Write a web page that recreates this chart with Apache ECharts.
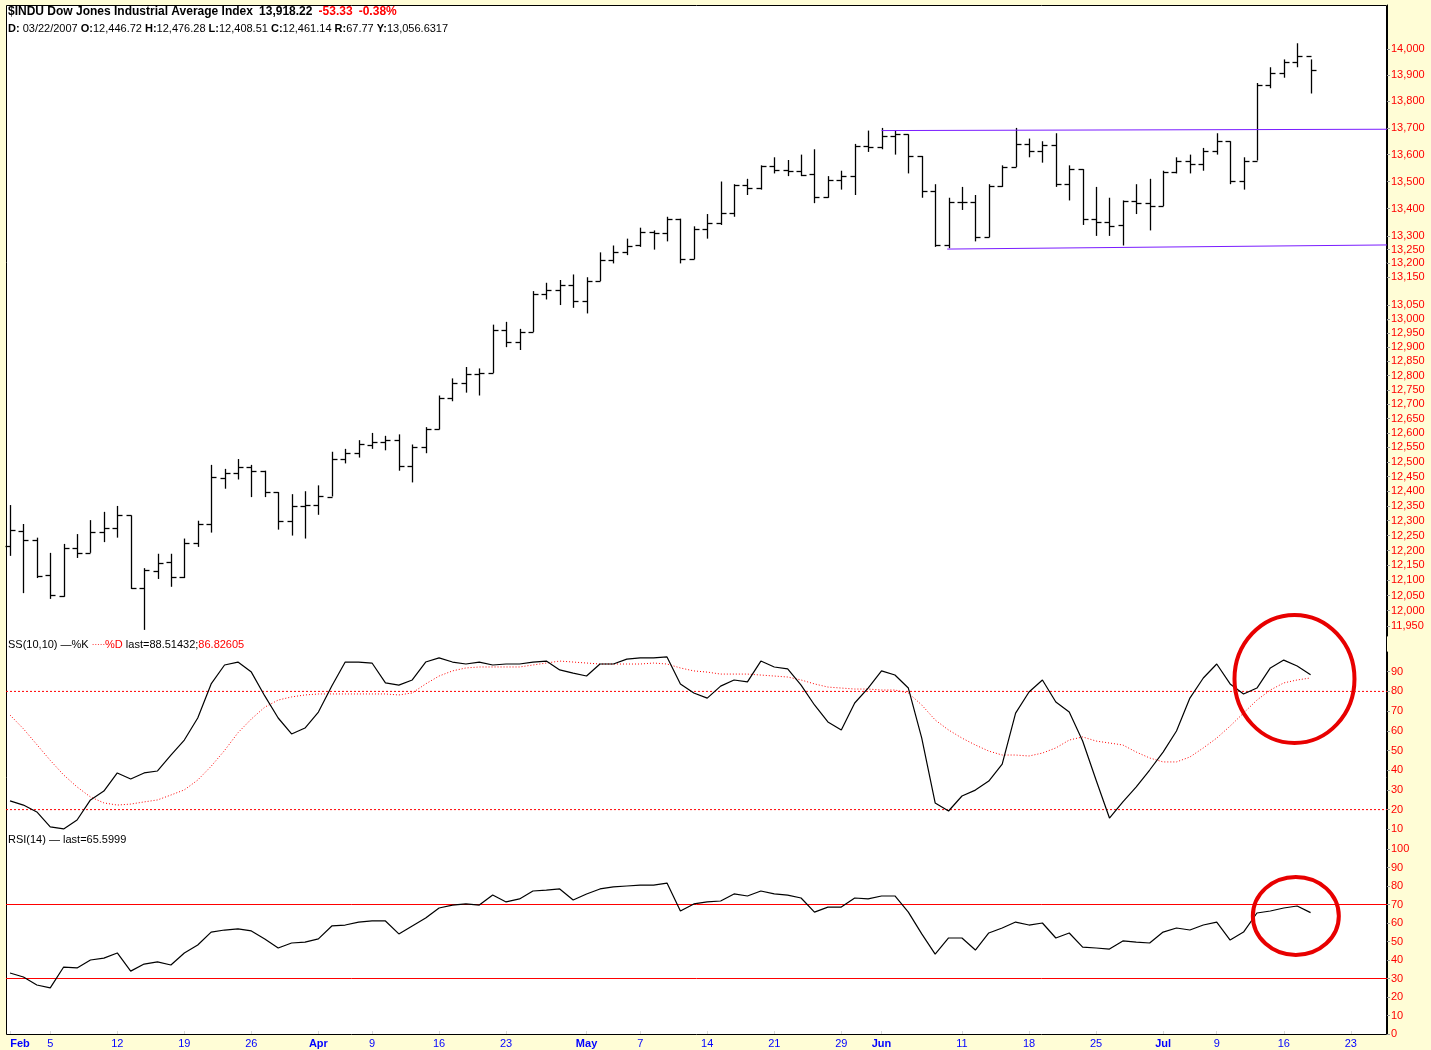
<!DOCTYPE html>
<html><head><meta charset="utf-8">
<script src="https://cdn.jsdelivr.net/npm/echarts@6/dist/echarts.min.js"></script>
<style>html,body{margin:0;padding:0;background:#FFFDD6}#c{width:1431px;height:1050px}</style>
</head><body><div id="c"></div>
<script>
// ---- Data ----
const openP  = [12215,12266,12234,12117,12050,12208,12192,12261,12276,12318,12076,12133,12160,12110,12226,12288,12446.72,12461,12481,12469,12397,12300,12349,12354,12382,12510,12530,12560,12569,12574,12485,12553,12612,12720,12773,12804,12809,12962,12919,12954,13090,13105,13121,13063,13136,13212,13241,13265,13313,13309,13363,13215,13326,13347,13384,13488,13477,13557,13543,13540,13526,13441,13507,13521,13633,13628,13668,13676,13595,13466,13267,13424,13425,13295,13482,13554,13639,13613,13635,13489,13546,13360,13352,13338,13428,13422,13409,13535,13577,13566,13612,13650,13502,13578,13862,13907,13951,13972];
const highP  = [12353,12289,12243,12192,12222,12255,12302,12330,12350,12318,12141,12189,12189,12240,12300,12490,12476.28,12510,12490,12470,12397,12390,12400,12420,12535,12545,12575,12600,12590,12595,12560,12620,12730,12790,12830,12825,12980,12990,12965,13100,13130,13140,13160,13150,13240,13265,13290,13330,13320,13370,13363,13335,13380,13500,13490,13510,13560,13590,13580,13600,13620,13520,13540,13640,13690,13700,13690,13676,13595,13490,13440,13480,13450,13490,13560,13700,13660,13650,13680,13560,13546,13480,13440,13430,13490,13510,13540,13590,13600,13625,13680,13650,13590,13870,13930,13960,14022,13960];
const lowP   = [12182,12058,12108,12039,12046,12175,12192,12228,12243,12072,11937,12105,12079,12108,12212,12260,12408.51,12440,12380,12380,12270,12250,12240,12320,12382,12495,12515,12545,12540,12470,12430,12530,12612,12710,12740,12730,12809,12900,12890,12954,13070,13050,13040,13020,13136,13200,13230,13260,13250,13280,13200,13215,13290,13340,13370,13450,13470,13530,13520,13520,13420,13440,13470,13450,13610,13620,13600,13530,13440,13260,13255,13395,13280,13295,13480,13554,13590,13570,13480,13430,13340,13300,13300,13265,13380,13320,13409,13530,13530,13540,13600,13490,13470,13578,13850,13890,13930,13830];
const closeP = [12268.63,12234.34,12114.10,12050.41,12207.59,12192.45,12260.70,12276.32,12318.62,12075.96,12133.40,12159.68,12110.41,12226.17,12288.10,12447.52,12461.14,12481.01,12469.07,12397.29,12300.36,12348.75,12354.35,12382.30,12510.30,12530.05,12560.20,12569.14,12573.85,12484.62,12552.96,12612.13,12720.46,12773.04,12803.84,12808.63,12961.98,12919.40,12953.94,13089.89,13105.50,13120.94,13062.91,13136.14,13211.88,13241.38,13264.62,13312.97,13309.07,13362.87,13215.13,13326.22,13346.78,13383.84,13487.53,13476.72,13556.53,13542.88,13539.95,13525.65,13441.13,13507.28,13521.34,13633.08,13627.64,13668.11,13676.32,13595.46,13465.67,13266.73,13424.39,13424.96,13295.01,13482.35,13553.73,13639.48,13612.98,13635.42,13489.42,13545.84,13360.26,13352.05,13337.66,13427.73,13422.28,13408.62,13535.43,13577.30,13565.84,13611.68,13649.97,13501.70,13577.87,13861.73,13907.25,13950.98,13971.55,13918.22];

const stochK = [24.4,22.3,18.8,11.2,10.2,14.7,24.9,29.4,38.6,35.5,38.6,39.6,47.7,55.3,66.5,83.8,93.4,94.9,89.8,77.7,66.5,58.4,61.4,69.5,82.7,94.9,94.9,94.4,84.3,83.2,85.8,94.9,97.0,94.9,93.9,94.9,93.4,93.9,93.9,94.9,95.4,90.9,89.3,87.8,93.9,93.9,96.4,97.0,97.0,97.5,83.8,79.2,76.6,82.7,85.8,84.8,95.4,92.4,91.4,83.2,73.1,64.5,60.4,74.1,81.7,90.4,88.3,81.7,56.3,23.4,19.3,26.9,29.9,34.5,43.1,69.0,79.7,85.8,74.6,69.5,54.8,35.0,15.7,23.9,31.5,40.1,49.2,59.9,76.6,86.8,93.9,83.8,78.7,81.7,91.9,95.9,92.9,88.51];
const stochD = [68,61,53,45,37.6,31.5,26.4,23.4,22.3,22.8,23.9,24.9,27.4,30,35,42,50,59,66,72,75.6,77.2,78.2,78.7,78.7,78.7,78.7,78.7,78.7,78.2,79.2,83.8,87.8,90.4,91.9,92.4,92.4,92.4,92.4,93.4,94.4,95.4,94.9,94.4,93.9,93.9,93.9,93.9,94.4,93.9,91.9,90.4,89.8,88.8,88.8,88.8,88.3,87.8,87.3,85.8,83.8,82.2,81.7,81.2,81.2,80.7,80.7,79.2,73.1,65.5,60.4,56.3,52.8,49.7,47.7,47.7,47.2,48.7,51.3,55.3,56.9,54.8,53.8,52.8,49.2,46.2,44.2,44.2,46.7,51.3,56.3,62.4,69.0,75.6,80.7,84.3,85.8,86.83];
const rsi14  = [33,30.8,26.5,24.9,36.2,35.7,40,41,43.8,34,37.8,39,37.3,43.8,48.1,55.1,56.2,56.8,55.7,51.4,46.5,49.2,49.7,51.4,58.4,58.9,60.5,61.1,61.1,54.1,58.4,62.7,68.1,69.7,70.3,69.7,75.1,71.4,73,77.3,77.8,78.4,72.4,75.7,78.4,79.5,80,80.5,80.5,81.6,66.5,70.3,71.4,71.9,75.7,74.6,77.3,75.7,75.1,73.5,65.9,68.6,68.6,73.5,73,74.6,74.6,65.9,54.1,43.2,51.9,51.9,45.4,54.6,57.3,60.5,58.9,60,51.9,54.6,47,46.5,45.9,50.3,49.7,49.2,55.1,57.3,56.2,58.9,60.5,50.8,55.1,65.4,66.5,68.1,69.2,65.6];

// trendlines [barIndex, price]
const resistLine = [[65, 13690], [102.7, 13695]];
const supportLine = [[69.9, 13252], [102.7, 13267]];
// indicator reference levels
const ssLevels = [80, 20];
const rsiLevels = [70, 30];
// annotation circle centres [barIndex, value]
const ssCircle = [[95.8, 86.3]];
const rsiCircle = [[95.9, 63.8]];

// tick labels
const priceTicks = [14000,13900,13800,13700,13600,13500,13400,13300,13250,13200,13150,13050,13000,12950,12900,12850,12800,12750,12700,12650,12600,12550,12500,12450,12400,12350,12300,12250,12200,12150,12100,12050,12000,11950];
const ssTicks = [10,20,30,40,50,60,70,80,90];
const rsiTicks = [0,10,20,30,40,50,60,70,80,90,100];
const xLabelIdx  = [0,3,8,13,18,23,27,32,37,43,47,52,57,62,65,71,76,81,86,90,95,100];
const xLabelText = ['Feb','5','12','19','26','Apr','9','16','23','May','7','14','21','29','Jun','11','18','25','Jul','9','16','23'];

// ---- chart ----
const FONT = "'Liberation Sans', Arial, sans-serif";
const L = Math.log;
const priceMin = 11917, priceMax = 14170;
const xMin = -0.3, xMax = 102.7;

const ohlc = closeP.map((c, i) => [i, L(openP[i]), L(highP[i]), L(lowP[i]), L(c)]);

function xAxisCfg(gi, show) {
  return {
    type: 'value', gridIndex: gi, min: xMin, max: xMax, show: show,
    splitLine: {show: false}, axisLine: {show: false, onZero: false},
    axisTick: {show: show, inside: true, length: 3, customValues: xLabelIdx, lineStyle: {color: '#d8d8d8'}},
    axisLabel: {
      show: show, customValues: xLabelIdx, color: '#0000ff', fontSize: 11, fontFamily: FONT, margin: 4,
      formatter: function (v) {
        const k = xLabelIdx.indexOf(Math.round(v));
        const t = xLabelText[k];
        if (k === 0) return '{f|' + t + '}';
        return /^[A-Z]/.test(t) ? '{m|' + t + '}' : t;
      },
      rich: {
        f: {fontWeight: 'bold', color: '#0000ff', fontSize: 11, fontFamily: FONT, padding: [0, 0, 0, 20]},
        m: {fontWeight: 'bold', color: '#0000ff', fontSize: 11, fontFamily: FONT}
      }
    }
  };
}
function yAxisCfg(gi, min, max, ticks, fmt) {
  return {
    type: 'value', gridIndex: gi, position: 'right', min: min, max: max,
    splitLine: {show: false},
    axisLine: {show: true, onZero: false, lineStyle: {color: '#000', width: 1}},
    axisTick: {show: true, length: 3, customValues: ticks, lineStyle: {color: '#999'}},
    axisLabel: {customValues: ticks, color: '#ff0000', fontSize: 11, fontFamily: FONT, margin: 4, formatter: fmt}
  };
}
function levelSeries(gi, level, dash) {
  return {type: 'line', xAxisIndex: gi, yAxisIndex: gi, symbol: 'none', z: 3, silent: true,
          data: [[xMin, level], [xMax, level]],
          lineStyle: {color: '#ff0000', width: 1, type: dash}};
}

const chart = echarts.init(document.getElementById('c'), null, {renderer: 'canvas'});
chart.setOption({
  animation: false,
  backgroundColor: '#FFFDD6',
  grid: [
    {left: 6, right: 44, top: 5, height: 631},
    {left: 6, right: 44, top: 652, height: 197},
    {left: 6, right: 44, top: 849, height: 185}
  ],
  graphic: [{
    type: 'rect', z: -10, silent: true,
    shape: {x: 6.5, y: 5.5, width: 1380, height: 1029},
    style: {fill: '#ffffff', stroke: '#000000', lineWidth: 1}
  }],
  title: [
    {left: 8, top: 6, padding: 0, text: '{b|$INDU Dow Jones Industrial Average Index}  {b|13,918.22}  {r|-53.33}  {r|-0.38%}',
     textStyle: {fontSize: 11, fontFamily: FONT, rich: {
       b: {fontWeight: 'bold', color: '#000', fontSize: 12, fontFamily: FONT},
       r: {fontWeight: 'bold', color: '#ff0000', fontSize: 12, fontFamily: FONT}}}},
    {left: 8, top: 23, padding: 0, text: '{b|D:} 03/22/2007 {b|O:}12,446.72 {b|H:}12,476.28 {b|L:}12,408.51 {b|C:}12,461.14 {b|R:}67.77 {b|Y:}13,056.6317',
     textStyle: {fontSize: 11, fontWeight: 'normal', color: '#000', fontFamily: FONT, rich: {
       b: {fontWeight: 'bold', color: '#000', fontSize: 11, fontFamily: FONT}}}},
    {left: 8, top: 639, padding: 0, text: 'SS(10,10) \u2014%K {r1|\u00b7\u00b7\u00b7\u00b7\u00b7}{r|%D} last=88.51432;{r|86.82605}',
     textStyle: {fontSize: 11, fontWeight: 'normal', color: '#000', fontFamily: FONT, rich: {
       r: {color: '#ff0000', fontSize: 11, fontFamily: FONT},
       r1: {color: '#ff0000', fontSize: 8, fontFamily: FONT}}}},
    {left: 8, top: 834, padding: 0, text: 'RSI(14) \u2014 last=65.5999',
     textStyle: {fontSize: 11, fontWeight: 'normal', color: '#000', fontFamily: FONT}}
  ],
  xAxis: [xAxisCfg(0, false), xAxisCfg(1, false), xAxisCfg(2, true)],
  yAxis: [
    yAxisCfg(0, L(priceMin), L(priceMax), priceTicks.map(L), v => Math.round(Math.exp(v)).toLocaleString('en-US')),
    yAxisCfg(1, 0, 100, ssTicks, v => String(Math.round(v))),
    yAxisCfg(2, 0, 100, rsiTicks, v => String(Math.round(v)))
  ],
  series: [
    {
      type: 'custom', name: 'OHLC', xAxisIndex: 0, yAxisIndex: 0, z: 3,
      dimensions: ['x', 'open', 'high', 'low', 'close'],
      encode: {x: 0, y: [1, 2, 3, 4]},
      data: ohlc,
      renderItem: function (params, api) {
        const x = api.value(0);
        const pO = api.coord([x, api.value(1)]);
        const pH = api.coord([x, api.value(2)]);
        const pL = api.coord([x, api.value(3)]);
        const pC = api.coord([x, api.value(4)]);
        const cx = Math.round(pH[0]) + 0.5;
        const w = 5;
        const st = {stroke: '#000', lineWidth: 1.3};
        const yo = Math.round(pO[1]) + 0.5, yc = Math.round(pC[1]) + 0.5;
        return {type: 'group', children: [
          {type: 'line', shape: {x1: cx, y1: pH[1], x2: cx, y2: pL[1]}, style: st},
          {type: 'line', shape: {x1: cx - w, y1: yo, x2: cx, y2: yo}, style: st},
          {type: 'line', shape: {x1: cx, y1: yc, x2: cx + w, y2: yc}, style: st}
        ]};
      }
    },
    {type: 'line', xAxisIndex: 0, yAxisIndex: 0, symbol: 'none', z: 4,
     data: resistLine.map(p => [p[0], L(p[1])]), lineStyle: {color: '#7a1cff', width: 1}},
    {type: 'line', xAxisIndex: 0, yAxisIndex: 0, symbol: 'none', z: 4,
     data: supportLine.map(p => [p[0], L(p[1])]), lineStyle: {color: '#7a1cff', width: 1}},
    levelSeries(1, ssLevels[0], [2, 2]),
    levelSeries(1, ssLevels[1], [2, 2]),
    levelSeries(2, rsiLevels[0], 'solid'),
    levelSeries(2, rsiLevels[1], 'solid'),
    {type: 'line', name: '%D', xAxisIndex: 1, yAxisIndex: 1, symbol: 'none', z: 4,
     data: stochD.map((v, i) => [i, v]), lineStyle: {color: '#ff0000', width: 1, type: [1, 2]}},
    {type: 'line', name: '%K', xAxisIndex: 1, yAxisIndex: 1, symbol: 'none', z: 5,
     data: stochK.map((v, i) => [i, v]), lineStyle: {color: '#000', width: 1.2}},
    {type: 'line', name: 'RSI', xAxisIndex: 2, yAxisIndex: 2, symbol: 'none', z: 5,
     data: rsi14.map((v, i) => [i, v]), lineStyle: {color: '#000', width: 1.2}},
    {type: 'custom', xAxisIndex: 1, yAxisIndex: 1, z: 10, data: ssCircle, clip: false,
     renderItem: function (params, api) {
       const p = api.coord([api.value(0), api.value(1)]);
       return {type: 'ellipse', shape: {cx: p[0], cy: p[1], rx: 60, ry: 64},
               style: {fill: 'none', stroke: '#e80000', lineWidth: 4}};
     }},
    {type: 'custom', xAxisIndex: 2, yAxisIndex: 2, z: 10, data: rsiCircle, clip: false,
     renderItem: function (params, api) {
       const p = api.coord([api.value(0), api.value(1)]);
       return {type: 'ellipse', shape: {cx: p[0], cy: p[1], rx: 43, ry: 39},
               style: {fill: 'none', stroke: '#e80000', lineWidth: 4}};
     }}
  ]
});
</script></body></html>
